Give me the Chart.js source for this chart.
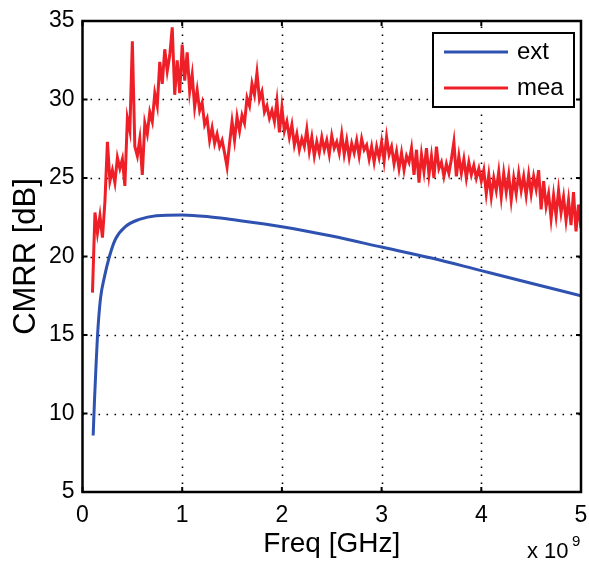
<html>
<head>
<script src="https://cdn.jsdelivr.net/npm/chart.js@4.4.1/dist/chart.umd.min.js"></script>
<style>
  body { margin:0; background:#fff; }
  #wrap { width:589px; height:565px; }
</style>
</head>
<body>
<div id="wrap"><canvas id="cmrr"></canvas></div>
<script>
// x axis ticks (in units of 1e9 Hz) and y axis ticks (dB)
var xTicks = [0, 1, 2, 3, 4, 5];
var yTicks = [5, 10, 15, 20, 25, 30, 35];

// extracted model curve
var extFreq = [0.107, 0.12, 0.134, 0.15, 0.18, 0.22, 0.27, 0.33, 0.43, 0.57, 0.74, 1.0, 1.25, 1.5, 2.0, 2.5, 3.0, 3.5, 4.0, 4.5, 5.0];
var extDb   = [8.6, 10.8, 12.8, 14.9, 17.3, 18.7, 20.0, 21.1, 21.9, 22.36, 22.6, 22.65, 22.55, 22.35, 21.9, 21.3, 20.6, 19.9, 19.1, 18.3, 17.5];

// measured curve, sweep from 0.1 to 5.0 in 0.025 steps
var meaStart = 0.1, meaStep = 0.025;
var meaDb = [
  17.7, 22.8, 21.5, 22.6, 21.2, 23.5, 27.3, 24.8, 25.5, 24.7,
  26.3, 25.6, 26.2, 24.5, 28.8, 28.0, 33.7, 27.0, 26.4, 27.5,
  25.2, 28.5, 27.8, 29.2, 28.6, 30.4, 29.6, 32.4, 31.0, 33.2,
  31.8, 32.8, 34.6, 30.3, 32.5, 30.4, 33.5, 31.2, 33.0, 30.5,
  31.6, 29.5, 30.6, 29.3, 29.8, 28.4, 28.8, 27.4, 28.2, 27.2,
  27.8, 27.0, 27.4, 26.6, 25.7, 27.2, 28.6, 27.4, 28.9, 28.0,
  29.0, 28.5, 30.1, 29.6, 31.0, 30.3, 31.7, 30.0, 30.5, 29.2,
  29.6, 28.8, 29.3, 28.6, 29.9, 27.9, 29.5, 28.0, 28.6, 27.6,
  28.4, 27.1, 27.8, 26.8, 27.5, 27.0, 28.1, 26.7, 27.6, 26.4,
  27.3, 26.6, 27.6, 26.8, 27.4, 26.5, 27.7, 26.9, 27.3, 26.6,
  27.8, 26.5, 27.4, 26.3, 27.2, 26.6, 27.4, 26.4, 27.5, 26.8,
  27.1, 26.2, 27.0, 26.0, 27.0, 26.3, 27.3, 26.1, 27.6, 26.5,
  27.0, 25.9, 26.7, 25.6, 26.6, 25.5, 26.4, 26.0, 26.9, 25.2,
  26.8, 24.7, 26.5, 25.4, 26.9, 25.2, 26.4, 25.0, 27.0, 25.6,
  26.0, 25.1, 25.9, 25.3, 26.2, 27.3, 25.1, 26.4, 25.3, 26.2,
  25.0, 26.0, 25.2, 25.8, 25.0, 25.6, 24.8, 25.5, 24.0, 25.2,
  23.8, 25.0, 24.2, 25.4, 23.8, 25.3, 24.1, 25.2, 23.6, 25.0,
  24.0, 25.3, 24.2, 25.1, 23.9, 25.2, 24.0, 25.1, 24.3, 25.5,
  23.0, 24.8, 23.2, 24.0, 22.4, 23.9, 22.6, 24.2, 22.8, 23.8,
  22.3, 23.6, 22.0, 24.1, 21.6, 23.3, 21.8
];

var extPts = extFreq.map(function (f, i) { return {x: f, y: extDb[i]}; });
var meaPts = meaDb.map(function (v, i) { return {x: meaStart + i * meaStep, y: v}; });

var FONT = '"Liberation Sans", Arial, sans-serif';

// MATLAB-style box, dotted grid, inner ticks, legend, exponent label
var matlabPlugin = {
  id: 'matlab',
  beforeDatasetsDraw: function (chart) {
    var ctx = chart.ctx, a = chart.chartArea;
    var xs = chart.scales.x, ys = chart.scales.y;
    ctx.save();
    ctx.strokeStyle = '#000';
    ctx.lineWidth = 1.6;
    ctx.setLineDash([1.6, 6.4]);
    xTicks.forEach(function (t) {
      if (t === xTicks[0] || t === xTicks[xTicks.length - 1]) return;
      var px = Math.round(xs.getPixelForValue(t)) + 0.5;
      ctx.beginPath(); ctx.moveTo(px, a.bottom); ctx.lineTo(px, a.top); ctx.stroke();
    });
    yTicks.forEach(function (t) {
      if (t === yTicks[0] || t === yTicks[yTicks.length - 1]) return;
      var py = Math.round(ys.getPixelForValue(t)) + 0.5;
      ctx.beginPath(); ctx.moveTo(a.left, py); ctx.lineTo(a.right, py); ctx.stroke();
    });
    ctx.restore();
  },
  afterDraw: function (chart) {
    var ctx = chart.ctx, a = chart.chartArea;
    var xs = chart.scales.x, ys = chart.scales.y;
    ctx.save();
    ctx.strokeStyle = '#000';
    ctx.lineWidth = 2.5;
    ctx.strokeRect(a.left, a.top, a.right - a.left, a.bottom - a.top);
    ctx.lineWidth = 2;
    var tl = 5;
    xTicks.forEach(function (t) {
      var px = xs.getPixelForValue(t);
      ctx.beginPath();
      ctx.moveTo(px, a.bottom); ctx.lineTo(px, a.bottom - tl);
      ctx.moveTo(px, a.top); ctx.lineTo(px, a.top + tl);
      ctx.stroke();
    });
    yTicks.forEach(function (t) {
      var py = ys.getPixelForValue(t);
      ctx.beginPath();
      ctx.moveTo(a.left, py); ctx.lineTo(a.left + tl, py);
      ctx.moveTo(a.right, py); ctx.lineTo(a.right - tl, py);
      ctx.stroke();
    });

    // legend box
    var lx = 433, ly = 33, lw = 141, lh = 74;
    ctx.fillStyle = '#fff';
    ctx.fillRect(lx, ly, lw, lh);
    ctx.lineWidth = 2;
    ctx.strokeRect(lx, ly, lw, lh);
    ctx.font = '24px ' + FONT;
    ctx.textBaseline = 'middle';
    chart.data.datasets.forEach(function (ds, i) {
      var yy = ly + 19 + i * 36;
      ctx.strokeStyle = ds.borderColor;
      ctx.lineWidth = 3;
      ctx.beginPath(); ctx.moveTo(lx + 11, yy); ctx.lineTo(lx + 75, yy); ctx.stroke();
      ctx.fillStyle = '#000';
      ctx.fillText(ds.label, lx + 84, yy);
    });

    // exponent
    ctx.fillStyle = '#000';
    ctx.textBaseline = 'alphabetic';
    ctx.font = '22px ' + FONT;
    ctx.fillText('x 10', 527, 558);
    ctx.font = '15px ' + FONT;
    ctx.fillText('9', 572, 546);
    ctx.restore();
  }
};

new Chart(document.getElementById('cmrr'), {
  type: 'line',
  data: {
    datasets: [
      {
        label: 'ext',
        data: extPts,
        borderColor: '#2f52b0',
        borderWidth: 3,
        pointRadius: 0,
        cubicInterpolationMode: 'monotone',
        fill: false
      },
      {
        label: 'mea',
        data: meaPts,
        borderColor: '#ee1f26',
        borderWidth: 3,
        pointRadius: 0,
        tension: 0,
        fill: false
      }
    ]
  },
  options: {
    responsive: true,
    maintainAspectRatio: false,
    animation: false,
    layout: { padding: { left: 0, right: 8, top: 21, bottom: 0 } },
    plugins: {
      legend: { display: false },
      tooltip: { enabled: false }
    },
    scales: {
      x: {
        type: 'linear',
        min: 0, max: 5,
        afterFit: function (s) { s.height = 73; s.paddingLeft = 0; s.paddingRight = 0; },
        afterBuildTicks: function (s) { s.ticks = xTicks.map(function (v) { return {value: v}; }); },
        grid: { display: false, drawTicks: false },
        border: { display: false },
        ticks: { color: '#000', padding: 10, maxRotation: 0, font: { family: FONT, size: 23 } },
        title: { display: true, text: 'Freq [GHz]', color: '#000', padding: { top: 0, bottom: 4 }, font: { family: FONT, size: 28 } }
      },
      y: {
        min: 5, max: 35,
        afterFit: function (s) { s.width = 82.5; s.paddingTop = 0; s.paddingBottom = 0; },
        afterBuildTicks: function (s) { s.ticks = yTicks.map(function (v) { return {value: v}; }); },
        grid: { display: false, drawTicks: false },
        border: { display: false },
        ticks: { color: '#000', padding: 8, font: { family: FONT, size: 23 } },
        title: { display: true, text: 'CMRR [dB]', color: '#000', padding: { top: 8, bottom: 0 }, font: { family: FONT, size: 31 } }
      }
    }
  },
  plugins: [matlabPlugin]
});
</script>
</body>
</html>
